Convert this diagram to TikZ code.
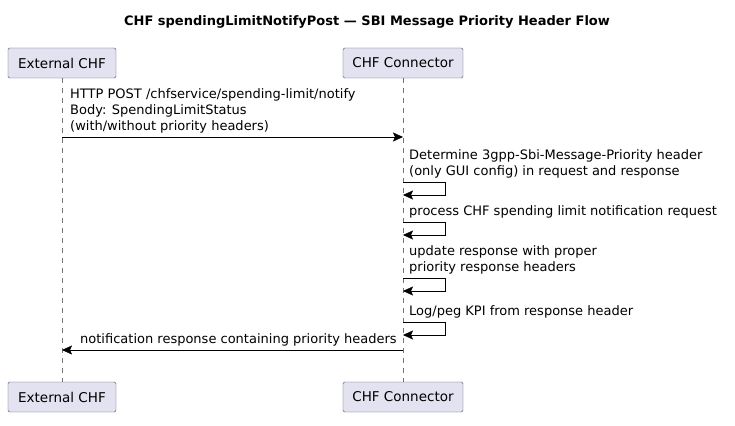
\documentclass[tikz,border=0pt]{standalone}
\usepackage{fontspec}
\setmainfont{DejaVu Sans}
\usetikzlibrary{arrows.meta}
\tikzstyle{participant} = [rectangle, rounded corners=1.5pt, draw={rgb,255:red,80;green,80;blue,110}, fill={rgb,255:red,226;green,226;blue,240}, minimum height=30pt, inner xsep=5pt, font=\fontsize{13.5}{16}\selectfont, text centered]
\tikzstyle{lifeline} = [dash pattern=on 5pt off 5pt, draw=black!55, thin]
\tikzstyle{msg} = [anchor=south west, align=left, inner sep=0pt, font=\fontsize{13}{16}\selectfont]
\tikzstyle{arrow} = [-{Stealth[length=10pt, width=9pt, inset=2pt]}, black]

\begin{document}
\begin{tikzpicture}[x=1pt, y=-1pt]
    \useasboundingbox (0,0) rectangle (735,425);
    \node [font=\bfseries\fontsize{13}{16}\selectfont] at (367,22) (title) {CHF spendingLimitNotifyPost — SBI Message Priority Header Flow};

    \node [participant, minimum width=108pt] at (62,63) (chfTop) {External CHF};
    \node [participant, minimum width=120pt] at (403,63) (conTop) {CHF Connector};
    \node [participant, minimum width=108pt] at (62,397) (chfBot) {External CHF};
    \node [participant, minimum width=120pt] at (403,397) (conBot) {CHF Connector};

    \draw [lifeline] (chfTop) -- (chfBot);
    \draw [lifeline] (conTop) -- (conBot);

    \node [msg] at (70,133) (m1) {HTTP POST /chfservice/spending-limit/notify\\Body: SpendingLimitStatus\\(with/without priority headers)};
    \draw [arrow] (62,137) -- (403,137);

    \node [msg] at (409,178) (m2) {Determine 3gpp-Sbi-Message-Priority header\\(only GUI config) in request and response};
    \draw [arrow] (403,182) -- (445,182) -- (445,195) -- (403,195);

    \node [msg] at (409,218) (m3) {process CHF spending limit notification request};
    \draw [arrow] (403,222) -- (445,222) -- (445,235) -- (403,235);

    \node [msg] at (409,274) (m4) {update response with proper\\priority response headers};
    \draw [arrow] (403,278) -- (445,278) -- (445,291) -- (403,291);

    \node [msg] at (409,318) (m5) {Log/peg KPI from response header};
    \draw [arrow] (403,322) -- (445,322) -- (445,335) -- (403,335);

    \node [msg] at (80,346) (m6) {notification response containing priority headers};
    \draw [arrow] (403,350) -- (62,350);
\end{tikzpicture}
\end{document}
